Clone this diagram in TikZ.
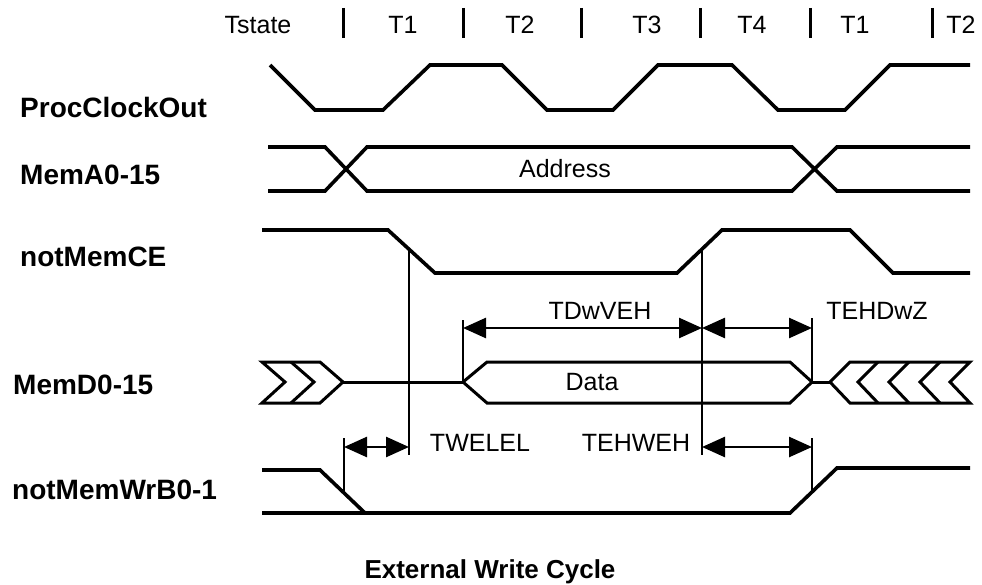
\documentclass[tikz,border=0pt]{standalone}
\usepackage{fontspec}
\setmainfont{Liberation Sans}
\usetikzlibrary{arrows.meta}
\tikzset{
  wave/.style={line width=3.6pt, line join=miter, line cap=butt},
  bus/.style={line width=3pt, line join=miter},
  vline/.style={line width=2.4pt},
  tick/.style={line width=2.6pt},
  dim/.style={line width=2.6pt, {Triangle[length=23pt,width=20pt]}-{Triangle[length=23pt,width=20pt]}},
  bar/.style={line width=3pt},
  txt/.style={inner sep=0pt, font=\fontsize{25}{28}\selectfont},
  sig/.style={inner sep=0pt, anchor=west, font=\fontsize{28}{32}\selectfont\bfseries},
}
\begin{document}
\begin{tikzpicture}[x=1pt,y=-1pt]
\useasboundingbox (0,0) rectangle (982,585);

% header
\node[txt] (ts) at (258,25) {Tstate};
\node[txt] (h1) at (403,25) {T1};
\node[txt] (h2) at (520,25) {T2};
\node[txt] (h3) at (647,25) {T3};
\node[txt] (h4) at (752,25) {T4};
\node[txt] (h5) at (855,25) {T1};
\node[txt] (h6) at (961,25) {T2};
\foreach \bx in {343,463,581,700,810,932}
  \draw[bar] (\bx,8) -- (\bx,38);

% signal labels
\node[sig] (l1) at (20,107) {ProcClockOut};
\node[sig] (l2) at (20,175) {MemA0-15};
\node[sig] (l3) at (20,257) {notMemCE};
\node[sig] (l4) at (13,385) {MemD0-15};
\node[sig] (l5) at (12,490) {notMemWrB0-1};

% ProcClockOut
\draw[wave] (270,65) -- (315,110) -- (383,110) -- (430,65) -- (502,65) -- (547,110)
  -- (613,110) -- (658,65) -- (732,65) -- (778,110) -- (845,110) -- (890,65) -- (970,65);

% MemA0-15
\draw[wave] (268,147) -- (325,147) -- (367,191) -- (792,191) -- (837,147) -- (970,147);
\draw[wave] (268,191) -- (325,191) -- (367,147) -- (792,147) -- (837,191) -- (970,191);
\node[txt] (addr) at (565,169) {Address};

% notMemCE
\draw[wave] (262,230) -- (388,230) -- (435,273) -- (677,273) -- (722,230) -- (850,230)
  -- (893,273) -- (970,273);

% MemD0-15
\draw[bus] (262,362) -- (320,362) -- (343,382) -- (320,403) -- (262,403) -- (285,382) -- cycle;
\draw[bus] (291,362) -- (314,382) -- (291,403);
\draw[bus] (343,382) -- (463,382);
\draw[bus] (463,382) -- (487,362) -- (790,362) -- (812,382) -- (790,403) -- (487,403) -- cycle;
\draw[bus] (812,382) -- (830,382);
\draw[bus] (830,382) -- (850,362) -- (970,362) -- (950,382) -- (970,403) -- (850,403) -- cycle;
\draw[bus] (878,362) -- (858,382) -- (878,403);
\draw[bus] (909,362) -- (889,382) -- (909,403);
\draw[bus] (940,362) -- (920,382) -- (940,403);
\node[txt] (data) at (592,382) {Data};

% notMemWrB0-1
\draw[wave] (262,470) -- (320,470) -- (365,513);
\draw[wave] (262,513) -- (790,513) -- (837,468) -- (970,468);

% reference coordinates
\coordinate (ceF) at (409,249);
\coordinate (ceFb) at (409,455);
\coordinate (ceR) at (702,249);
\coordinate (ceRb) at (702,455);
\coordinate (dvT) at (463,320);
\coordinate (dvB) at (463,382);
\coordinate (dzT) at (812,318);
\coordinate (dzB) at (812,382);
\coordinate (wfT) at (344,438);
\coordinate (wfB) at (344,493);
\coordinate (wrT) at (812,438);
\coordinate (wrB) at (812,492);

\draw[vline] (ceF) -- (ceFb);
\draw[vline] (ceR) -- (ceRb);
\draw[tick] (dvT) -- (dvB);
\draw[tick] (dzT) -- (dzB);
\draw[tick] (wfT) -- (wfB);
\draw[tick] (wrT) -- (wrB);

% dimension arrows
\coordinate (a1l) at (463,328);
\coordinate (a1r) at (702,328);
\coordinate (a2r) at (812,328);
\coordinate (a3l) at (344,447);
\coordinate (a3r) at (409,447);
\coordinate (a4l) at (702,447);
\coordinate (a4r) at (812,447);
\draw[dim] (a1l) -- (a1r);
\draw[dim] (a1r) -- (a2r);
\draw[dim] (a3l) -- (a3r);
\draw[dim] (a4l) -- (a4r);

\node[txt] (tdw) at (600,311) {TDwVEH};
\node[txt] (tehdwz) at (877,311) {TEHDwZ};
\node[txt] (twelel) at (480,443) {TWELEL};
\node[txt] (tehweh) at (636,443) {TEHWEH};

\node[inner sep=0pt, font=\fontsize{26}{30}\selectfont\bfseries] (title) at (490,572) {External Write Cycle};
\end{tikzpicture}
\end{document}
